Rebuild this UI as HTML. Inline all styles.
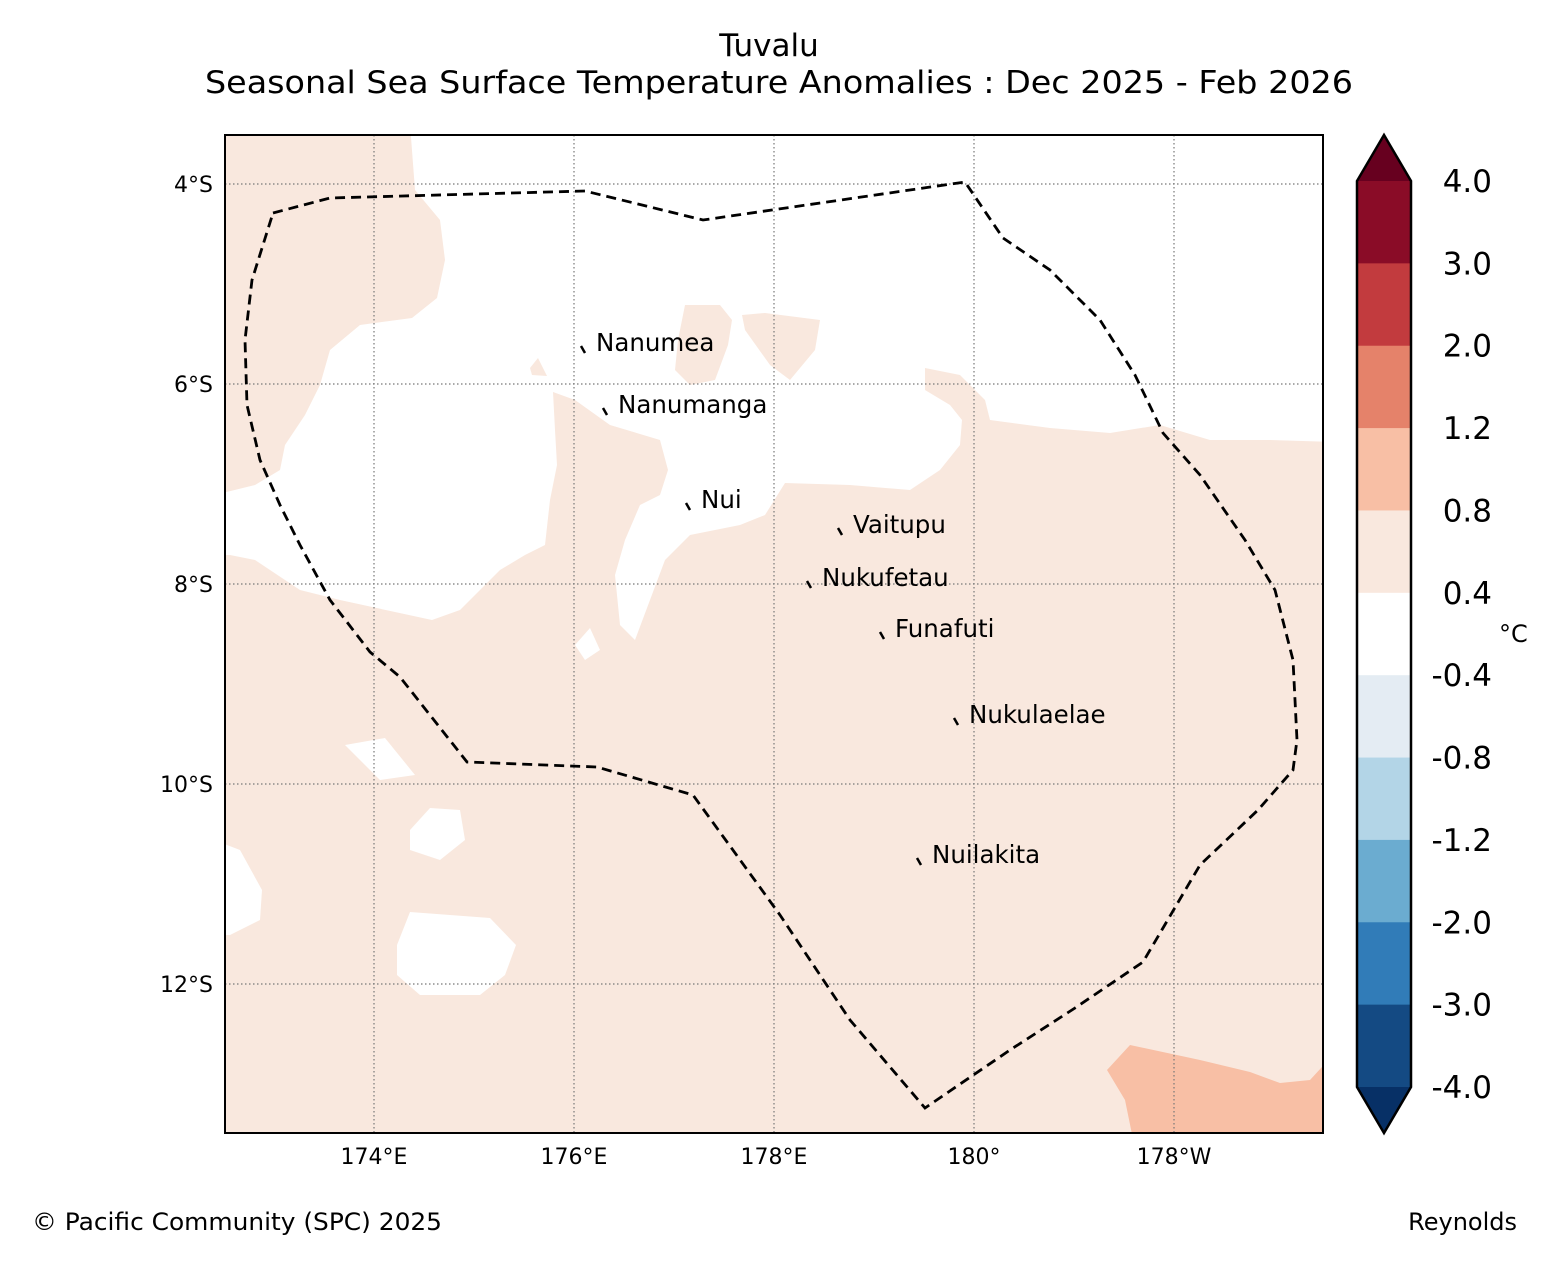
<!DOCTYPE html>
<html><head><meta charset="utf-8"><style>
html,body{margin:0;padding:0;background:#fff;}
svg{display:block;font-family:"DejaVu Sans","Liberation Sans",sans-serif;}
</style></head><body>
<svg id="chart" width="1562" height="1264" viewBox="0 0 1562 1264" xmlns="http://www.w3.org/2000/svg">
<text x="769" y="56" font-size="31" text-anchor="middle">Tuvalu</text>
<text x="779" y="93" font-size="31" text-anchor="middle" textLength="1148" lengthAdjust="spacingAndGlyphs">Seasonal Sea Surface Temperature Anomalies : Dec 2025 - Feb 2026</text>
<defs><clipPath id="mapclip"><rect x="225" y="135" width="1098" height="998"/></clipPath></defs>
<g id="map" clip-path="url(#mapclip)"></g>
<g id="labels"></g>
<g id="axes"></g>
<g id="cbar"></g>
<text x="32" y="1230" font-size="24" textLength="410" lengthAdjust="spacingAndGlyphs">© Pacific Community (SPC) 2025</text>
<text x="1517" y="1230" font-size="24" text-anchor="end">Reynolds</text>
</svg>
<script>
const lonTicks=[174,176,178,180,182];
const lonTickLabels=["174°E","176°E","178°E","180°","178°W"];
const latTicks=[4,6,8,10,12];
const latTickLabels=["4°S","6°S","8°S","10°S","12°S"];
const cbarLevels=["4.0","3.0","2.0","1.2","0.8","0.4","-0.4","-0.8","-1.2","-2.0","-3.0","-4.0"];
const cbarColors=["#8a0c27","#c23b3e","#e5826a","#f8bfa5","#f9e8de","#ffffff","#e4ecf3","#b3d5e7","#6bacd0","#317cb8","#144a83"];
const islandNames=["Nanumea","Nanumanga","Nui","Vaitupu","Nukufetau","Funafuti","Nukulaelae","Nuilakita"];
const islandLon=[176.1,176.32,177.15,178.67,178.36,179.09,179.83,179.46];
const islandLat=[5.66,6.28,7.23,7.48,8.01,8.52,9.38,10.78];
const pinkBg=[[172.4,3.4],[183.6,3.4],[183.6,13.6],[172.4,13.6]];
const whiteMain=[[174.36,3.4],[183.6,3.4],[183.6,6.58],[182.96,6.56],[182.36,6.56],[181.86,6.41],[181.36,6.49],[180.76,6.44],[180.16,6.36],[180.11,6.16],[179.86,5.91],[179.51,5.84],[179.51,6.06],[179.76,6.21],[179.88,6.36],[179.86,6.61],[179.66,6.86],[179.36,7.06],[178.76,7.01],[178.11,6.99],[177.91,7.31],[177.66,7.41],[177.16,7.51],[176.91,7.76],[176.76,8.16],[176.61,8.56],[176.46,8.41],[176.41,7.91],[176.51,7.56],[176.66,7.21],[176.86,7.11],[176.94,6.86],[176.86,6.56],[176.36,6.41],[176.01,6.16],[175.79,6.08],[175.81,6.46],[175.83,6.81],[175.76,7.16],[175.71,7.61],[175.51,7.71],[175.26,7.86],[174.86,8.26],[174.58,8.36],[174.21,8.28],[173.66,8.16],[173.26,8.06],[172.81,7.76],[172.56,7.71],[172.4,7.71],[172.4,7.11],[172.81,7.01],[173.06,6.86],[173.11,6.61],[173.31,6.31],[173.46,6.01],[173.56,5.66],[173.86,5.41],[174.38,5.34],[174.63,5.14],[174.71,4.76],[174.66,4.36],[174.41,4.06],[174.36,3.4]];
const pinkIslands=[
 [[177.11,5.21],[177.46,5.21],[177.58,5.36],[177.54,5.61],[177.41,5.96],[177.16,6.01],[177.01,5.86],[177.04,5.56]],
 [[177.68,5.31],[177.91,5.29],[178.46,5.36],[178.41,5.66],[178.16,5.96],[177.96,5.81],[177.71,5.46]],
 [[175.64,5.74],[175.73,5.92],[175.58,5.91],[175.56,5.84]]];
const whiteHoles=[
 [[176.01,8.61],[176.16,8.44],[176.26,8.66],[176.11,8.76]],
 [[173.71,9.61],[174.11,9.54],[174.41,9.91],[174.06,9.96],[173.86,9.76]],
 [[174.36,10.46],[174.56,10.24],[174.86,10.26],[174.91,10.56],[174.66,10.76],[174.36,10.66]],
 [[172.4,10.56],[172.66,10.66],[172.88,11.06],[172.86,11.36],[172.56,11.51],[172.4,11.51]],
 [[174.36,11.28],[175.16,11.34],[175.42,11.61],[175.31,11.91],[175.06,12.11],[174.46,12.11],[174.23,11.91],[174.23,11.61]]];
const orangePatch=[[181.33,12.86],[181.56,12.61],[182.26,12.76],[182.76,12.88],[183.06,12.99],[183.36,12.96],[183.6,12.7],[183.6,13.6],[181.6,13.6],[181.51,13.16]];
const eezLon=[172.99,173.56,176.11,177.29,179.91,180.29,180.76,181.26,181.61,181.89,182.26,182.71,183.01,183.19,183.23,183.19,182.84,182.26,181.69,181.01,180.36,179.51,178.76,178.06,177.19,176.23,174.93,174.26,173.96,173.56,173.26,173.06,172.86,172.73,172.71,172.78,172.99];
const eezLat=[4.29,4.14,4.07,4.36,3.98,4.54,4.86,5.36,5.91,6.49,6.91,7.56,8.06,8.76,9.56,9.86,10.26,10.81,11.78,12.24,12.66,13.24,12.36,11.31,10.11,9.83,9.78,8.93,8.68,8.16,7.61,7.21,6.76,6.21,5.56,4.96,4.29];
</script>
<script>
const NS="http://www.w3.org/2000/svg";
const X=lon=>374+(lon-174)*100;
const Y=lat=>184+(lat-4)*100;
function mk(tag,attrs,parent){const e=document.createElementNS(NS,tag);for(const k in attrs)e.setAttribute(k,attrs[k]);parent.appendChild(e);return e;}
const map=document.getElementById('map'),axes=document.getElementById('axes'),cb=document.getElementById('cbar'),labs=document.getElementById('labels');
const pts=a=>a.map(p=>X(p[0]).toFixed(1)+','+Y(p[1]).toFixed(1)).join(' ');
let e;
e=mk('polygon',{points:pts(pinkBg),fill:'#f9e8de'},map);


e=mk('polygon',{points:pts(whiteMain),fill:'#ffffff'},map);


pinkIslands.forEach(p=>{const q=mk('polygon',{points:pts(p),fill:'#f9e8de'},map);

});
whiteHoles.forEach(p=>{const q=mk('polygon',{points:pts(p),fill:'#ffffff'},map);

});
e=mk('polygon',{points:pts(orangePatch),fill:'#f8bfa5'},map);


lonTicks.forEach(l=>{const g=mk('line',{x1:X(l),x2:X(l),y1:135,y2:1133,stroke:'#777','stroke-width':1.2,'stroke-dasharray':'1.5,2.5'},map);

});
latTicks.forEach(l=>{const g=mk('line',{x1:225,x2:1323,y1:Y(l),y2:Y(l),stroke:'#777','stroke-width':1.2,'stroke-dasharray':'1.5,2.5'},map);

});
e=mk('polyline',{points:eezLon.map((l,i)=>X(l).toFixed(1)+','+Y(eezLat[i]).toFixed(1)).join(' '),fill:'none',stroke:'#000','stroke-width':2.8,'stroke-dasharray':'10,6'},map);


islandNames.forEach((n,i)=>{const x=X(islandLon[i]),y=Y(islandLat[i]);
const m=mk('path',{d:`M${x-3},${y-4} L${x+1},${y+3}`,stroke:'#000','stroke-width':2.5,fill:'none'},map);


const t=mk('text',{x:x+12,y:y+1,'font-size':24.5},labs);t.textContent=n;

});
e=mk('rect',{x:225,y:135,width:1098,height:998,fill:'none',stroke:'#000','stroke-width':2},axes);


lonTicks.forEach((l,i)=>{const t=mk('text',{x:X(l),y:1164,'font-size':22,'text-anchor':'middle'},axes);t.textContent=lonTickLabels[i];

});
latTicks.forEach((l,i)=>{const t=mk('text',{x:213,y:Y(l)+8,'font-size':22,'text-anchor':'end'},axes);t.textContent=latTickLabels[i];

});
const cx0=1357,cx1=1411,ctop=181,cbot=1087,n=cbarColors.length,h=(cbot-ctop)/n;
cbarColors.forEach((c,i)=>{const r=mk('rect',{x:cx0,y:ctop+i*h,width:cx1-cx0,height:h+0.5,fill:c},cb);

});
e=mk('polygon',{points:`${cx0},${ctop} ${(cx0+cx1)/2},135 ${cx1},${ctop}`,fill:'#67001f'},cb);


e=mk('polygon',{points:`${cx0},${cbot} ${(cx0+cx1)/2},1133 ${cx1},${cbot}`,fill:'#073066'},cb);


e=mk('polygon',{points:`${cx0},${ctop} ${(cx0+cx1)/2},135 ${cx1},${ctop} ${cx1},${cbot} ${(cx0+cx1)/2},1133 ${cx0},${cbot}`,fill:'none',stroke:'#000','stroke-width':2.5},cb);


cbarLevels.forEach((s,i)=>{const t=mk('text',{x:1492,y:ctop+i*h+11,'font-size':31,'text-anchor':'end'},cb);t.textContent=s;

});
e=mk('text',{x:1499,y:642,'font-size':24},cb);e.textContent='°C';


</script>
</body></html>
